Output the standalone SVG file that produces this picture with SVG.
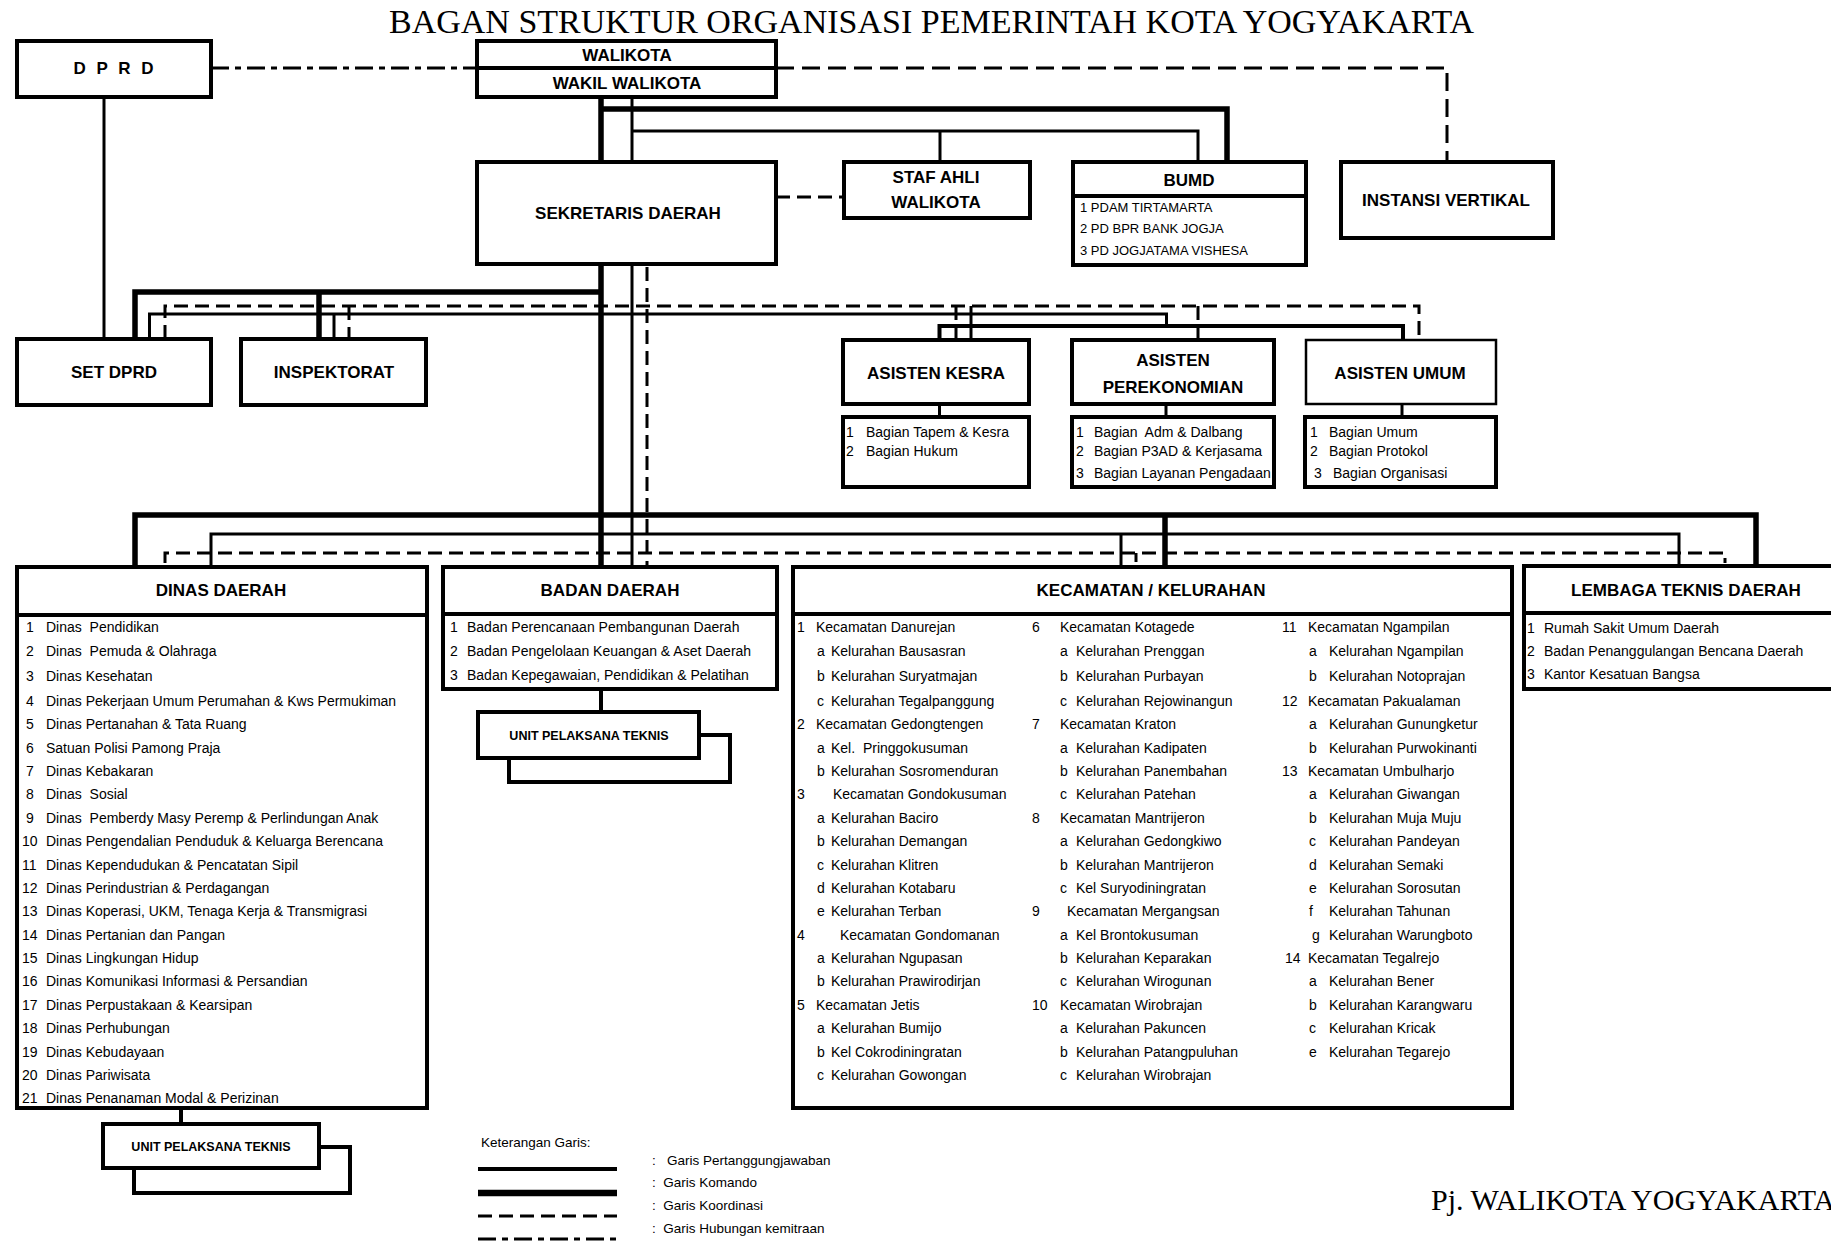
<svg xmlns="http://www.w3.org/2000/svg" width="1831" height="1243" viewBox="0 0 1831 1243">
<style>
.box{fill:#fff;stroke:#000;stroke-width:4}
.boxt{fill:#fff;stroke:#000;stroke-width:2.5}
.thin{stroke:#000;stroke-width:3;fill:none}
.mid{stroke:#000;stroke-width:4;fill:none}
.thick{stroke:#000;stroke-width:5.5;fill:none}
.dash{stroke:#000;stroke-width:3;stroke-dasharray:14 7;fill:none}
.dd{stroke:#000;stroke-width:3;stroke-dasharray:18 6 6 6;fill:none}
text{font-family:"Liberation Sans",Arial,sans-serif;fill:#000;white-space:pre}
.t{font-size:14px}
.s{font-size:13px}
.h{font-size:17px;font-weight:bold;text-anchor:middle}
.u{font-size:12.5px;font-weight:bold;text-anchor:middle}
.serif{font-family:"Liberation Serif","Times New Roman",serif}
</style>
<rect width="1831" height="1243" fill="#fff"/>
<text class="serif" x="389" y="33" font-size="33.5" textLength="1085" lengthAdjust="spacingAndGlyphs">BAGAN STRUKTUR ORGANISASI PEMERINTAH KOTA YOGYAKARTA</text>

<g id="connectors">
<line class="dd" x1="211" y1="68" x2="477" y2="68"/>
<path class="dash" d="M776 68 H1447 V162" style="stroke-dasharray:18 8"/>
<line class="dash" x1="776" y1="197" x2="844" y2="197"/>
<line class="thick" x1="601" y1="97" x2="601" y2="162"/>
<line class="thin" x1="632" y1="97" x2="632" y2="162"/>
<path class="thick" d="M601 109 H1227 V162"/>
<path class="thin" d="M632 131 H1198 V162"/>
<line class="thin" x1="940" y1="131" x2="940" y2="162"/>
<line class="thin" x1="104" y1="97" x2="104" y2="339"/>
<line class="thick" x1="601" y1="264" x2="601" y2="567"/>
<line class="thin" x1="632" y1="264" x2="632" y2="567"/>
<line class="dash" x1="647" y1="267" x2="647" y2="567"/>
<path class="thick" d="M601 292 H135 V339"/>
<line class="thick" x1="319" y1="292" x2="319" y2="339"/>
<path class="dash" d="M165 339 V306 H1419 V340"/>
<path class="thin" d="M149.5 339 V314 H1166.5 V326"/>
<line class="thin" x1="334" y1="314" x2="334" y2="339"/>
<line class="dash" x1="349" y1="306" x2="349" y2="339"/>
<path class="mid" d="M939.5 340 V326 H1403 V340"/>
<line class="dash" x1="956" y1="306" x2="956" y2="340"/>
<line class="thin" x1="971" y1="306" x2="971" y2="340"/>
<line class="dash" x1="1198" y1="306" x2="1198" y2="340"/>
<line class="thin" x1="939.5" y1="404" x2="939.5" y2="417"/>
<line class="thin" x1="1166" y1="404" x2="1166" y2="417"/>
<line class="thin" x1="1402" y1="404" x2="1402" y2="417"/>
<path class="thick" d="M135 567 V515 H1756 V566"/>
<path class="thin" d="M211 567 V534 H1679 V566"/>
<path class="dash" d="M165 563 V553 H1725 V563"/>
<line class="thick" x1="1165" y1="515" x2="1165" y2="567"/>
<line class="thin" x1="1121" y1="534" x2="1121" y2="567"/>
<line class="dash" x1="1136" y1="553" x2="1136" y2="562"/>
<line class="mid" x1="181" y1="1108" x2="181" y2="1124"/>
<line class="mid" x1="601" y1="689" x2="601" y2="712"/>
</g>

<g id="dprd">
<rect class="box" x="17" y="41" width="194" height="56"/>
<text class="h" x="115" y="74" letter-spacing="3">D P R D</text>
</g>

<g id="walikota">
<rect class="box" x="477" y="41" width="299" height="56"/>
<line class="mid" x1="477" y1="68" x2="776" y2="68"/>
<text class="h" x="627" y="61">WALIKOTA</text>
<text class="h" x="627" y="89">WAKIL WALIKOTA</text>
</g>

<g id="sekda">
<rect class="box" x="477" y="162" width="299" height="102"/>
<text class="h" x="628" y="219">SEKRETARIS DAERAH</text>
</g>

<g id="stafahli">
<rect class="box" x="844" y="162" width="186" height="56"/>
<text class="h" x="936" y="183">STAF AHLI</text>
<text class="h" x="936" y="208">WALIKOTA</text>
</g>

<g id="bumd">
<rect class="box" x="1073" y="162" width="233" height="103"/>
<line class="mid" x1="1073" y1="196" x2="1306" y2="196"/>
<text class="h" x="1189" y="186">BUMD</text>
<text class="s" x="1080" y="212">1 PDAM TIRTAMARTA</text>
<text class="s" x="1080" y="233">2 PD BPR BANK JOGJA</text>
<text class="s" x="1080" y="255">3 PD JOGJATAMA VISHESA</text>
</g>

<g id="instansi">
<rect class="box" x="1341" y="162" width="212" height="76"/>
<text class="h" x="1446" y="206">INSTANSI VERTIKAL</text>
</g>

<g id="setdprd">
<rect class="box" x="17" y="339" width="194" height="66"/>
<text class="h" x="114" y="378">SET DPRD</text>
</g>

<g id="inspektorat">
<rect class="box" x="241" y="339" width="185" height="66"/>
<text class="h" x="334" y="378">INSPEKTORAT</text>
</g>

<g id="asisten-kesra">
<rect class="box" x="843" y="340" width="186" height="64"/>
<text class="h" x="936" y="379">ASISTEN KESRA</text>
<rect class="box" x="843" y="417" width="186" height="70"/>
<text class="t" x="846" y="437">1</text><text class="t" x="866" y="437">Bagian Tapem &amp; Kesra</text>
<text class="t" x="846" y="456">2</text><text class="t" x="866" y="456">Bagian Hukum</text>
</g>

<g id="asisten-perekonomian">
<rect class="box" x="1072" y="340" width="202" height="64"/>
<text class="h" x="1173" y="366">ASISTEN</text>
<text class="h" x="1173" y="393">PEREKONOMIAN</text>
<rect class="box" x="1072" y="417" width="202" height="70"/>
<text class="t" x="1076" y="437">1</text><text class="t" x="1094" y="437">Bagian  Adm &amp; Dalbang</text>
<text class="t" x="1076" y="456">2</text><text class="t" x="1094" y="456">Bagian P3AD &amp; Kerjasama</text>
<text class="t" x="1076" y="478">3</text><text class="t" x="1094" y="478">Bagian Layanan Pengadaan</text>
</g>

<g id="asisten-umum">
<rect class="boxt" x="1306" y="340" width="190" height="64"/>
<text class="h" x="1400" y="379">ASISTEN UMUM</text>
<rect class="box" x="1305" y="417" width="191" height="70"/>
<text class="t" x="1310" y="437">1</text><text class="t" x="1329" y="437">Bagian Umum</text>
<text class="t" x="1310" y="456">2</text><text class="t" x="1329" y="456">Bagian Protokol</text>
<text class="t" x="1314" y="478">3</text><text class="t" x="1333" y="478">Bagian Organisasi</text>
</g>

<g id="dinas-daerah">
<rect class="box" x="17" y="567" width="410" height="541"/>
<line class="mid" x1="17" y1="615" x2="427" y2="615"/>
<text class="h" x="221" y="596">DINAS DAERAH</text>
<text class="t" x="26" y="632">1</text><text class="t" x="46" y="632">Dinas  Pendidikan</text>
<text class="t" x="26" y="656">2</text><text class="t" x="46" y="656">Dinas  Pemuda &amp; Olahraga</text>
<text class="t" x="26" y="681">3</text><text class="t" x="46" y="681">Dinas Kesehatan</text>
<text class="t" x="26" y="706">4</text><text class="t" x="46" y="706">Dinas Pekerjaan Umum Perumahan &amp; Kws Permukiman</text>
<text class="t" x="26" y="729">5</text><text class="t" x="46" y="729">Dinas Pertanahan &amp; Tata Ruang</text>
<text class="t" x="26" y="753">6</text><text class="t" x="46" y="753">Satuan Polisi Pamong Praja</text>
<text class="t" x="26" y="776">7</text><text class="t" x="46" y="776">Dinas Kebakaran</text>
<text class="t" x="26" y="799">8</text><text class="t" x="46" y="799">Dinas  Sosial</text>
<text class="t" x="26" y="823">9</text><text class="t" x="46" y="823">Dinas  Pemberdy Masy Peremp &amp; Perlindungan Anak</text>
<text class="t" x="22" y="846">10</text><text class="t" x="46" y="846">Dinas Pengendalian Penduduk &amp; Keluarga Berencana</text>
<text class="t" x="22" y="870">11</text><text class="t" x="46" y="870">Dinas Kependudukan &amp; Pencatatan Sipil</text>
<text class="t" x="22" y="893">12</text><text class="t" x="46" y="893">Dinas Perindustrian &amp; Perdagangan</text>
<text class="t" x="22" y="916">13</text><text class="t" x="46" y="916">Dinas Koperasi, UKM, Tenaga Kerja &amp; Transmigrasi</text>
<text class="t" x="22" y="940">14</text><text class="t" x="46" y="940">Dinas Pertanian dan Pangan</text>
<text class="t" x="22" y="963">15</text><text class="t" x="46" y="963">Dinas Lingkungan Hidup</text>
<text class="t" x="22" y="986">16</text><text class="t" x="46" y="986">Dinas Komunikasi Informasi &amp; Persandian</text>
<text class="t" x="22" y="1010">17</text><text class="t" x="46" y="1010">Dinas Perpustakaan &amp; Kearsipan</text>
<text class="t" x="22" y="1033">18</text><text class="t" x="46" y="1033">Dinas Perhubungan</text>
<text class="t" x="22" y="1057">19</text><text class="t" x="46" y="1057">Dinas Kebudayaan</text>
<text class="t" x="22" y="1080">20</text><text class="t" x="46" y="1080">Dinas Pariwisata</text>
<text class="t" x="22" y="1103">21</text><text class="t" x="46" y="1103">Dinas Penanaman Modal &amp; Perizinan</text>
</g>

<g id="upt-dinas">
<rect class="box" x="134" y="1147" width="216" height="46"/>
<rect class="box" x="103" y="1124" width="216" height="44"/>
<text class="u" x="211" y="1151">UNIT PELAKSANA TEKNIS</text>
</g>

<g id="badan-daerah">
<rect class="box" x="443" y="567" width="334" height="122"/>
<line class="mid" x1="443" y1="614" x2="777" y2="614"/>
<text class="h" x="610" y="596">BADAN DAERAH</text>
<text class="t" x="450" y="632">1</text><text class="t" x="467" y="632">Badan Perencanaan Pembangunan Daerah</text>
<text class="t" x="450" y="656">2</text><text class="t" x="467" y="656">Badan Pengelolaan Keuangan &amp; Aset Daerah</text>
<text class="t" x="450" y="680">3</text><text class="t" x="467" y="680">Badan Kepegawaian, Pendidikan &amp; Pelatihan</text>
</g>

<g id="upt-badan">
<rect class="box" x="509" y="735" width="221" height="47"/>
<rect class="box" x="478" y="712" width="221" height="46"/>
<text class="u" x="589" y="740">UNIT PELAKSANA TEKNIS</text>
</g>

<g id="kecamatan">
<rect class="box" x="793" y="567" width="719" height="541"/>
<line class="mid" x1="793" y1="614" x2="1512" y2="614"/>
<text class="h" x="1151" y="596">KECAMATAN / KELURAHAN</text>
<text class="t" x="797" y="632">1</text><text class="t" x="816" y="632">Kecamatan Danurejan</text>
<text class="t" x="817" y="656">a</text><text class="t" x="831" y="656">Kelurahan Bausasran</text>
<text class="t" x="817" y="681">b</text><text class="t" x="831" y="681">Kelurahan Suryatmajan</text>
<text class="t" x="817" y="706">c</text><text class="t" x="831" y="706">Kelurahan Tegalpanggung</text>
<text class="t" x="797" y="729">2</text><text class="t" x="816" y="729">Kecamatan Gedongtengen</text>
<text class="t" x="817" y="753">a</text><text class="t" x="831" y="753">Kel.  Pringgokusuman</text>
<text class="t" x="817" y="776">b</text><text class="t" x="831" y="776">Kelurahan Sosromenduran</text>
<text class="t" x="797" y="799">3</text><text class="t" x="833" y="799">Kecamatan Gondokusuman</text>
<text class="t" x="817" y="823">a</text><text class="t" x="831" y="823">Kelurahan Baciro</text>
<text class="t" x="817" y="846">b</text><text class="t" x="831" y="846">Kelurahan Demangan</text>
<text class="t" x="817" y="870">c</text><text class="t" x="831" y="870">Kelurahan Klitren</text>
<text class="t" x="817" y="893">d</text><text class="t" x="831" y="893">Kelurahan Kotabaru</text>
<text class="t" x="817" y="916">e</text><text class="t" x="831" y="916">Kelurahan Terban</text>
<text class="t" x="797" y="940">4</text><text class="t" x="840" y="940">Kecamatan Gondomanan</text>
<text class="t" x="817" y="963">a</text><text class="t" x="831" y="963">Kelurahan Ngupasan</text>
<text class="t" x="817" y="986">b</text><text class="t" x="831" y="986">Kelurahan Prawirodirjan</text>
<text class="t" x="797" y="1010">5</text><text class="t" x="816" y="1010">Kecamatan Jetis</text>
<text class="t" x="817" y="1033">a</text><text class="t" x="831" y="1033">Kelurahan Bumijo</text>
<text class="t" x="817" y="1057">b</text><text class="t" x="831" y="1057">Kel Cokrodiningratan</text>
<text class="t" x="817" y="1080">c</text><text class="t" x="831" y="1080">Kelurahan Gowongan</text>

<text class="t" x="1032" y="632">6</text><text class="t" x="1060" y="632">Kecamatan Kotagede</text>
<text class="t" x="1060" y="656">a</text><text class="t" x="1076" y="656">Kelurahan Prenggan</text>
<text class="t" x="1060" y="681">b</text><text class="t" x="1076" y="681">Kelurahan Purbayan</text>
<text class="t" x="1060" y="706">c</text><text class="t" x="1076" y="706">Kelurahan Rejowinangun</text>
<text class="t" x="1032" y="729">7</text><text class="t" x="1060" y="729">Kecamatan Kraton</text>
<text class="t" x="1060" y="753">a</text><text class="t" x="1076" y="753">Kelurahan Kadipaten</text>
<text class="t" x="1060" y="776">b</text><text class="t" x="1076" y="776">Kelurahan Panembahan</text>
<text class="t" x="1060" y="799">c</text><text class="t" x="1076" y="799">Kelurahan Patehan</text>
<text class="t" x="1032" y="823">8</text><text class="t" x="1060" y="823">Kecamatan Mantrijeron</text>
<text class="t" x="1060" y="846">a</text><text class="t" x="1076" y="846">Kelurahan Gedongkiwo</text>
<text class="t" x="1060" y="870">b</text><text class="t" x="1076" y="870">Kelurahan Mantrijeron</text>
<text class="t" x="1060" y="893">c</text><text class="t" x="1076" y="893">Kel Suryodiningratan</text>
<text class="t" x="1032" y="916">9</text><text class="t" x="1067" y="916">Kecamatan Mergangsan</text>
<text class="t" x="1060" y="940">a</text><text class="t" x="1076" y="940">Kel Brontokusuman</text>
<text class="t" x="1060" y="963">b</text><text class="t" x="1076" y="963">Kelurahan Keparakan</text>
<text class="t" x="1060" y="986">c</text><text class="t" x="1076" y="986">Kelurahan Wirogunan</text>
<text class="t" x="1032" y="1010">10</text><text class="t" x="1060" y="1010">Kecamatan Wirobrajan</text>
<text class="t" x="1060" y="1033">a</text><text class="t" x="1076" y="1033">Kelurahan Pakuncen</text>
<text class="t" x="1060" y="1057">b</text><text class="t" x="1076" y="1057">Kelurahan Patangpuluhan</text>
<text class="t" x="1060" y="1080">c</text><text class="t" x="1076" y="1080">Kelurahan Wirobrajan</text>

<text class="t" x="1282" y="632">11</text><text class="t" x="1308" y="632">Kecamatan Ngampilan</text>
<text class="t" x="1309" y="656">a</text><text class="t" x="1329" y="656">Kelurahan Ngampilan</text>
<text class="t" x="1309" y="681">b</text><text class="t" x="1329" y="681">Kelurahan Notoprajan</text>
<text class="t" x="1282" y="706">12</text><text class="t" x="1308" y="706">Kecamatan Pakualaman</text>
<text class="t" x="1309" y="729">a</text><text class="t" x="1329" y="729">Kelurahan Gunungketur</text>
<text class="t" x="1309" y="753">b</text><text class="t" x="1329" y="753">Kelurahan Purwokinanti</text>
<text class="t" x="1282" y="776">13</text><text class="t" x="1308" y="776">Kecamatan Umbulharjo</text>
<text class="t" x="1309" y="799">a</text><text class="t" x="1329" y="799">Kelurahan Giwangan</text>
<text class="t" x="1309" y="823">b</text><text class="t" x="1329" y="823">Kelurahan Muja Muju</text>
<text class="t" x="1309" y="846">c</text><text class="t" x="1329" y="846">Kelurahan Pandeyan</text>
<text class="t" x="1309" y="870">d</text><text class="t" x="1329" y="870">Kelurahan Semaki</text>
<text class="t" x="1309" y="893">e</text><text class="t" x="1329" y="893">Kelurahan Sorosutan</text>
<text class="t" x="1309" y="916">f</text><text class="t" x="1329" y="916">Kelurahan Tahunan</text>
<text class="t" x="1312" y="940">g</text><text class="t" x="1329" y="940">Kelurahan Warungboto</text>
<text class="t" x="1285" y="963">14</text><text class="t" x="1308" y="963">Kecamatan Tegalrejo</text>
<text class="t" x="1309" y="986">a</text><text class="t" x="1329" y="986">Kelurahan Bener</text>
<text class="t" x="1309" y="1010">b</text><text class="t" x="1329" y="1010">Kelurahan Karangwaru</text>
<text class="t" x="1309" y="1033">c</text><text class="t" x="1329" y="1033">Kelurahan Kricak</text>
<text class="t" x="1309" y="1057">e</text><text class="t" x="1329" y="1057">Kelurahan Tegarejo</text>
</g>

<g id="lembaga-teknis">
<rect class="box" x="1524" y="566" width="320" height="123"/>
<line class="mid" x1="1524" y1="613" x2="1844" y2="613"/>
<text class="h" x="1686" y="596">LEMBAGA TEKNIS DAERAH</text>
<text class="t" x="1527" y="633">1</text><text class="t" x="1544" y="633">Rumah Sakit Umum Daerah</text>
<text class="t" x="1527" y="656">2</text><text class="t" x="1544" y="656">Badan Penanggulangan Bencana Daerah</text>
<text class="t" x="1527" y="679">3</text><text class="t" x="1544" y="679">Kantor Kesatuan Bangsa</text>
</g>

<g id="legend">
<text x="481" y="1147" font-size="13.5">Keterangan Garis:</text>
<line class="thin" x1="478" y1="1169" x2="617" y2="1169" style="stroke-width:4"/>
<line class="thick" x1="478" y1="1193" x2="617" y2="1193" style="stroke-width:6.5"/>
<line class="dash" x1="478" y1="1216" x2="617" y2="1216"/>
<line class="dd" x1="478" y1="1239" x2="617" y2="1239"/>
<text x="652" y="1165" font-size="13.5">:   Garis Pertanggungjawaban</text>
<text x="652" y="1187" font-size="13.5">:  Garis Komando</text>
<text x="652" y="1210" font-size="13.5">:  Garis Koordinasi</text>
<text x="652" y="1233" font-size="13.5">:  Garis Hubungan kemitraan</text>
</g>

<text class="serif" x="1431" y="1210" font-size="30">Pj. WALIKOTA YOGYAKARTA</text>
</svg>
